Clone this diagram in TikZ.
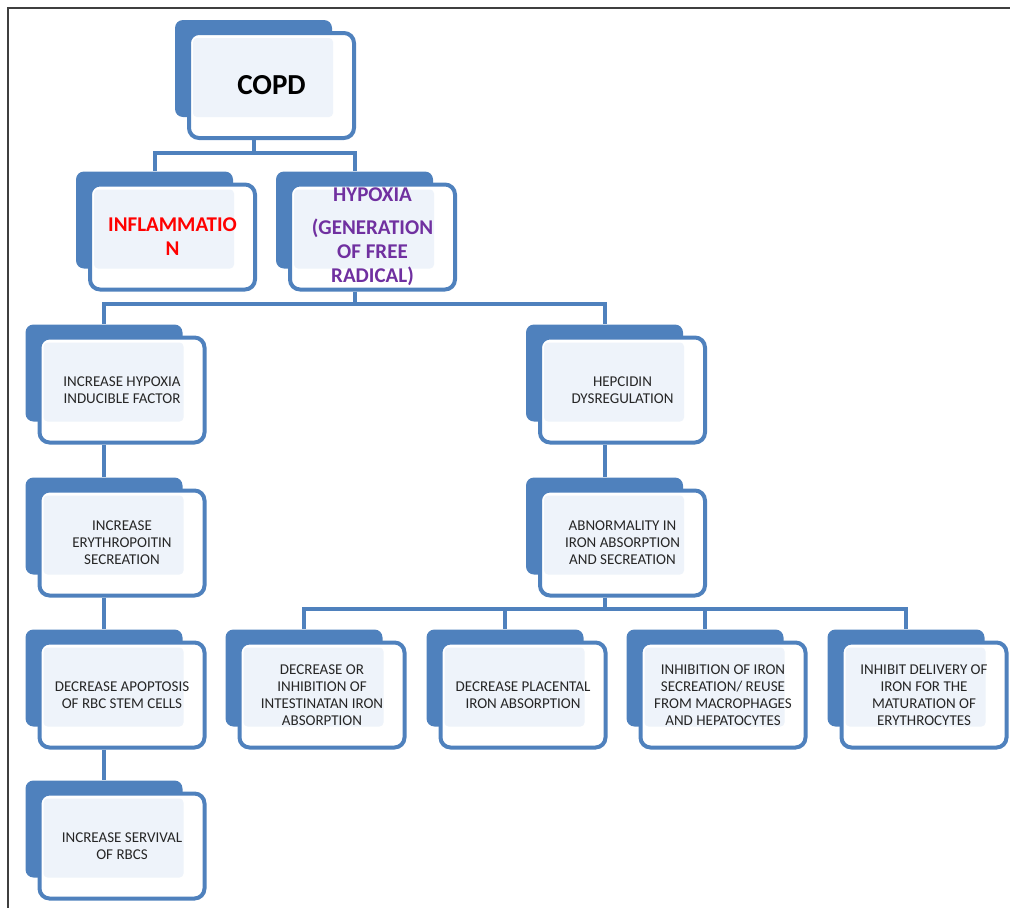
\documentclass[tikz,border=0pt]{standalone}
\usepackage{fontspec}
\setmainfont{Carlito}
\usepackage{xcolor}
\definecolor{boxblue}{HTML}{4F81BD}
\definecolor{boxlight}{HTML}{EEF3FA}
\definecolor{hypoxiapurple}{HTML}{7030A0}
\definecolor{framegray}{HTML}{3F3F3F}

% one stacked box: back plate, white frame, light panel, text
\newcommand{\stackbox}[4][]{%
  \node[backbox]  (#2-b) at ([shift={(-18,-17)}]#3) {};
  \node[frontbox] (#2-f) at (#3) {};
  \node[lightbox] (#2-l) at ([shift={(-8.5,-8)}]#3) {};
  \node[boxtext,#1] (#2) at (#3) {#4};
}

\begin{document}
\begin{tikzpicture}[x=1pt,y=-1pt]
  \tikzset{backbox/.style  = {fill=boxblue, rounded corners=8pt,
                              minimum width=157pt, minimum height=97pt,
                              inner sep=0pt},
           frontbox/.style = {draw=boxblue, fill=white, line width=4pt,
                              rounded corners=10pt,
                              minimum width=165pt, minimum height=105pt,
                              inner sep=0pt},
           lightbox/.style = {fill=boxlight, rounded corners=4pt,
                              minimum width=140pt, minimum height=79pt,
                              inner sep=0pt},
           boxtext/.style  = {align=center, text=black!85, inner sep=0pt,
                              font=\fontsize{15}{17}\selectfont},
           copdtext/.style = {text=black, font=\fontsize{29}{30}\selectfont\bfseries},
           bigtext/.style  = {font=\fontsize{21}{24}\selectfont\bfseries},
           link/.style     = {draw=boxblue, line width=4pt}}

  \useasboundingbox (0,0) rectangle (1010,908);
  \draw[framegray, line width=2pt] (1010,8) -- (8,8) -- (8,908);

% part copd
\stackbox[copdtext]{copd}{271.5,85.5}{COPD}

% part inflammation and hypoxia
\stackbox[bigtext,text=red]{infl}{172.5,237}{INFLAMMATIO\\N}
\stackbox[bigtext,text=hypoxiapurple]{hyp}{372.5,237}{HYPOXIA\\[9pt](GENERATION\\OF FREE\\RADICAL)}

% part left chain
\stackbox{hif}{122,390}{INCREASE HYPOXIA\\INDUCIBLE FACTOR}
\stackbox{epo}{122,543}{INCREASE\\ERYTHROPOITIN\\SECREATION}
\stackbox{apop}{122,695}{DECREASE APOPTOSIS\\OF RBC STEM CELLS}
\stackbox{surv}{122,846}{INCREASE SERVIVAL\\OF RBCS}

% part right chain
\stackbox{hep}{622.5,390}{HEPCIDIN\\DYSREGULATION}
\stackbox{abn}{622.5,543}{ABNORMALITY IN\\IRON ABSORPTION\\AND SECREATION}

% part bottom row
\stackbox{intest}{322,695}{DECREASE OR\\INHIBITION OF\\INTESTINATAN IRON\\ABSORPTION}
\stackbox{plac}{523,695}{DECREASE PLACENTAL\\IRON ABSORPTION}
\stackbox{reuse}{723,695}{INHIBITION OF IRON\\SECREATION/ REUSE\\FROM MACROPHAGES\\AND HEPATOCYTES}
\stackbox{deliv}{924,695}{INHIBIT DELIVERY OF\\IRON FOR THE\\MATURATION OF\\ERYTHROCYTES}

% links
\draw[link] (copd-b.south |- copd-f.south) -- ++(0,13) -| (infl-b.north);
\draw[link] (copd-b.south |- copd-f.south) -- ++(0,13) -| (hyp-b.north);
\draw[link] (hyp-b.south |- hyp-f.south) -- ++(0,12) -| (hif-b.north);
\draw[link] (hyp-b.south |- hyp-f.south) -- ++(0,12) -| (hep-b.north);
\draw[link] (hif-b.south |- hif-f.south) -- (epo-b.north);
\draw[link] (epo-b.south |- epo-f.south) -- (apop-b.north);
\draw[link] (apop-b.south |- apop-f.south) -- (surv-b.north);
\draw[link] (hep-b.south |- hep-f.south) -- (abn-b.north);
\foreach \leaf in {intest, plac, reuse, deliv}
  \draw[link] (abn-b.south |- abn-f.south) -- ++(0,11) -| (\leaf-b.north);

\end{tikzpicture}
\end{document}
